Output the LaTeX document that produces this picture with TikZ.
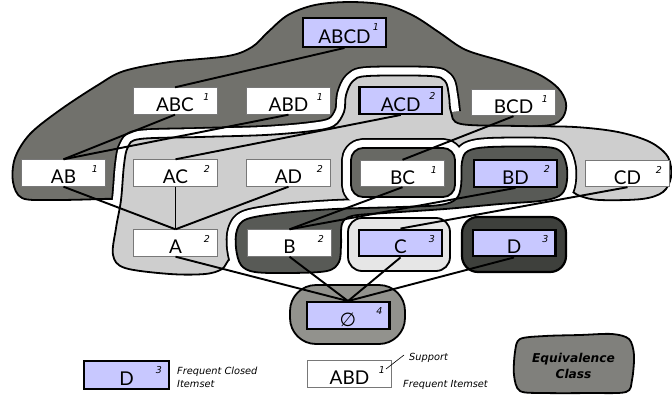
\documentclass[tikz,border=0pt]{standalone}
\usepackage{fontspec}
\setmainfont{Lato}
\newfontfamily\notefont{DejaVu Sans}[ItalicFont={DejaVu Sans Oblique},BoldFont={DejaVu Sans Bold},BoldItalicFont={DejaVu Sans Bold Oblique}]

\definecolor{classdark}{RGB}{113,113,108}
\definecolor{classlight}{RGB}{206,206,206}
\definecolor{classbc}{RGB}{104,105,100}
\definecolor{classbd}{RGB}{88,90,86}
\definecolor{classc}{RGB}{230,230,230}
\definecolor{classd}{RGB}{62,64,60}
\definecolor{classempty}{RGB}{146,146,141}
\definecolor{classkey}{RGB}{128,128,124}
\definecolor{closedfill}{RGB}{200,200,255}
\definecolor{boxedge}{RGB}{120,120,120}

% outlines of the equivalence classes
\def\blobABCD{plot[smooth cycle,tension=.55] coordinates {(22,198) (13,182) (15,158) (30,134) (60,110) (98,85) (124,71) (170,62) (228,56) (252,47) (268,32) (288,15) (315,5) (350,2) (386,5) (414,16) (440,33) (466,50) (505,62) (538,74) (558,88) (566,103) (563,117) (550,125) (510,127) (472,127) (445,138) (340,152) (200,160) (148,170) (140,196) (100,199) (50,200)}}
\def\blobACD{plot[smooth cycle,tension=.55] coordinates {(113,255) (116,228) (121,200) (124,165) (128,147) (140,139) (200,137) (265,135) (312,131) (334,126) (344,112) (346,95) (353,81) (368,76) (430,76) (445,81) (449,96) (451,112) (461,124) (520,126) (575,127) (618,132) (650,142) (668,157) (671,177) (663,192) (642,199) (600,200) (580,196) (556,186) (500,198) (420,208) (330,222) (290,240) (252,252) (231,258) (222,269) (205,274) (170,274) (125,268)}}
% the part of that outline which borders the dark class
\def\gapACD{plot[smooth,tension=.55] coordinates {(113,255) (116,228) (121,200) (124,165) (128,147) (140,139) (200,137) (265,135) (312,131) (334,126) (344,112) (346,95) (353,81) (368,76) (430,76) (445,81) (449,96) (451,112)}}
\def\blobBC{[rounded corners=12pt] (351,148) rectangle (455,197)}
\def\blobBD{plot[smooth cycle,tension=.55] coordinates {(247,219) (283,213) (335,209) (400,207) (440,205) (456,199) (461,186) (462,162) (468,151) (490,147) (545,147) (561,152) (567,168) (566,186) (559,196) (540,201) (500,204) (445,209) (385,213) (352,216) (342,224) (341,245) (339,262) (327,271) (290,273) (255,272) (241,265) (236,248) (237,230)}}
\def\blobC{[rounded corners=14pt] (348,218) rectangle (450,271)}
\def\blobD{[rounded corners=16pt] (462,217) rectangle (566,272)}
\def\blobE{[rounded corners=26pt] (290,285) rectangle (405,344)}
\def\blobKey{plot[smooth cycle,tension=.5] coordinates {(515,352) (520,339) (545,336) (580,335) (612,334) (629,339) (634,355) (632,380) (626,392) (590,393) (545,393) (520,391) (514,375)}}

\begin{document}
\begin{tikzpicture}[x=1pt,y=-1pt,
  blob/.style={draw=black,line width=1.8pt,line join=round},
  gapedge/.style={line width=19.8pt,line join=round},
  gapfill/.style={white,line width=16.2pt,line join=round},
  itemset/.style={draw=boxedge,line width=0.9pt,fill=white,minimum width=84pt,minimum height=26.5pt,inner sep=0pt,text height=21pt,text depth=0pt,font=\fontsize{19}{19}\selectfont},
  closedset/.style={itemset,draw=black,line width=2.4pt,fill=closedfill,minimum width=82.6pt},
  supnum/.style={inner sep=0pt,font=\notefont\itshape\fontsize{9.5}{9.5}\selectfont},
  note/.style={inner sep=0pt,font=\notefont\itshape\fontsize{9.8}{9.8}\selectfont},
  keytext/.style={inner sep=0pt,font=\notefont\bfseries\itshape\fontsize{12.2}{12.2}\selectfont},
  link/.style={line width=1.9pt},
  leader/.style={line width=0.6pt}]
\useasboundingbox (0,0) rectangle (672,399);

% class {ABCD, ABC, ABD, BCD, AB, BC}
\draw[blob,fill=classdark] \blobABCD;
% white gap where the light class meets it
\begin{scope}
  \clip \blobABCD;
  \draw[gapedge] \gapACD;
\end{scope}
\draw[gapfill] \gapACD;
% class {ACD, AC, AD, CD, A}
\draw[blob,fill=classlight] \blobACD;
% gaps around the classes lying on the light one
\begin{scope}
  \clip \blobACD;
  \draw[gapedge] \blobBC;
  \draw[gapedge] \blobBD;
\end{scope}
\draw[gapfill] \blobBC;
\draw[gapfill] \blobBD;
\draw[blob,fill=classbc] \blobBC;
\draw[blob,fill=classbd] \blobBD;
% single classes
\draw[blob,fill=classc] \blobC;
\draw[blob,fill=classd,line width=2.2pt] \blobD;
\draw[blob,fill=classempty] \blobE;
\draw[blob,fill=classkey] \blobKey;

% itemsets
\node[closedset,minimum height=28.5pt] (abcd) at (344.5,32.5) {ABCD};
\node[itemset] (abc) at (175,101) {ABC};
\node[itemset] (abd) at (288.5,101) {ABD};
\node[closedset] (acd) at (400.8,100.5) {ACD};
\node[itemset] (bcd) at (513.5,102.5) {BCD};
\node[itemset] (ab) at (63.5,173) {AB};
\node[itemset] (ac) at (175.5,173) {AC};
\node[itemset] (ad) at (288.5,173) {AD};
\node[itemset] (bc) at (402.5,173.5) {BC};
\node[closedset] (bd) at (515.5,173.5) {BD};
\node[itemset] (cd) at (627.5,173.5) {CD};
\node[itemset] (a) at (175.5,243) {A};
\node[itemset] (b) at (289.5,243) {B};
\node[closedset] (c) at (400.5,243) {C};
\node[closedset] (d) at (514,243) {D};
\node[closedset] (empty) at (348,315.5) {\notefont ∅};

% supports
\foreach \n/\s in {abcd/1,abc/1,abd/1,acd/2,bcd/1,ab/1,ac/2,ad/2,bc/1,bd/2,cd/2,a/2,b/2,c/3,d/3,empty/4}
  \node[supnum,xshift=-11pt,yshift=-10pt] (\n-s) at (\n.north east) {\s};

% lattice edges
\draw[link] (abcd.south) -- (abc.north);
\draw[link] (abc.south) -- (ab.north);
\draw[link] (abd.south) -- (ab.north);
\draw[link] (acd.south) -- (ac.north);
\draw[link] (bcd.south) -- (bc.north);
\draw[link] (ab.south) -- (a.north);
\draw[link] (ac.south) -- (a.north);
\draw[link] (ad.south) -- (a.north);
\draw[link] (bc.south) -- (b.north);
\draw[link] (bd.south) -- (b.north);
\draw[link] (cd.south) -- (c.north);
\draw[link] (a.south) -- (empty.north);
\draw[link] (b.south) -- (empty.north);
\draw[link] (c.south) -- (empty.north);
\draw[link] (d.south) -- (empty.north);

% legend
\node[closedset,minimum width=84.5pt,minimum height=27.5pt] (keyd) at (126.5,375) {D};
\node[supnum,xshift=-11pt,yshift=-10pt] (keyd-s) at (keyd.north east) {3};
\node[note,anchor=base west] (fc1) at (177,374) {Frequent Closed};
\node[note,anchor=base west] (fc2) at (177,387) {Itemset};
\node[itemset] (keyabd) at (349.5,374) {ABD};
\node[supnum,xshift=-10pt,yshift=-10pt] (keyabd-s) at (keyabd.north east) {1};
\coordinate (lead-a) at (386,369);
\coordinate (lead-b) at (404,355);
\draw[leader] (lead-a) -- (lead-b);
\node[note,anchor=base west] (sup) at (409,360) {Support};
\node[note,anchor=base west] (fi) at (403,387) {Frequent Itemset};
\node[keytext,anchor=base] (eq1) at (573.5,362) {Equivalence};
\node[keytext,anchor=base] (eq2) at (573.5,378) {Class};
\end{tikzpicture}
\end{document}
